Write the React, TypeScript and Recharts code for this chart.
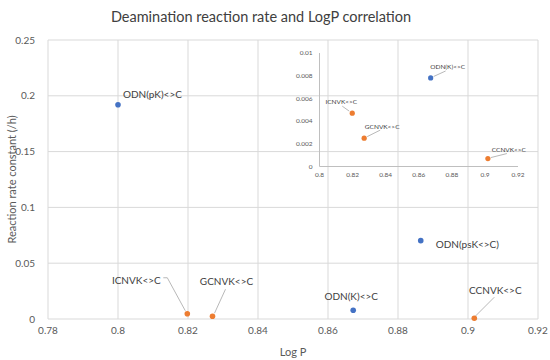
import { CartesianGrid, Scatter, ScatterChart, XAxis, YAxis } from 'recharts'

// blue series (ODN)
const odnNames = ['ODN(pK)<>C', 'ODN(psK<>C)', 'ODN(K)<>C']
const odnLogP = [0.8, 0.8865, 0.8672]
const odnRate = [0.192, 0.0702, 0.0078]

// orange series (CNVK)
const cnvkNames = ['ICNVK<>C', 'GCNVK<>C', 'CCNVK<>C']
const cnvkLogP = [0.8198, 0.827, 0.9018]
const cnvkRate = [0.0047, 0.0025, 0.0007]

const mainXTicks = [0.78, 0.8, 0.82, 0.84, 0.86, 0.88, 0.9, 0.92]
const mainYTicks = [0, 0.05, 0.1, 0.15, 0.2, 0.25]
const insetXTicks = [0.8, 0.82, 0.84, 0.86, 0.88, 0.9, 0.92]
const insetYTicks = [0, 0.002, 0.004, 0.006, 0.008, 0.01]

const BLUE = '#4472C4'
const ORANGE = '#ED7D31'
const GRID = '#d9d9d9'
const TEXT = '#595959'
const FONT = 'Lato, "Open Sans", sans-serif'

type Row = { name: string; logP: number; rate: number }
type Place = { dx: number; dy: number; anchor?: 'start' | 'middle' | 'end'; leader?: number[][] }

const toRows = (names: string[], xs: number[], ys: number[]): Row[] =>
  names.map((name, i) => ({ name, logP: xs[i], rate: ys[i] }))

const odnRows = toRows(odnNames, odnLogP, odnRate)
const cnvkRows = toRows(cnvkNames, cnvkLogP, cnvkRate)
const insetMax = 0.01

// label placement relative to the dot
const mainLabels: Record<string, Place> = {
  'ODN(pK)<>C': { dx: 5, dy: -11, anchor: 'start' },
  'ODN(psK<>C)': { dx: 15, dy: 3, anchor: 'start' },
  'ODN(K)<>C': { dx: -2, dy: -14 },
  'ICNVK<>C': { dx: -51, dy: -34, leader: [[-24, -36], [-20, -36], [-2, -3]] },
  'GCNVK<>C': { dx: 14, dy: -35, leader: [[13, -27], [2, -3]] },
  'CCNVK<>C': { dx: 21, dy: -28, leader: [[20, -21], [1, -2]] },
}

const insetLabels: Record<string, Place> = {
  'ODN(K)<>C': { dx: 17, dy: -11, leader: [[3, -1.5], [15, -7]] },
  'ICNVK<>C': { dx: -11, dy: -12, leader: [[-10, -7], [-3, -2]] },
  'GCNVK<>C': { dx: 18, dy: -12, leader: [[3, -1.5], [16, -8]] },
  'CCNVK<>C': { dx: 21, dy: -9, leader: [[3, -1], [19, -5]] },
}

function makeDot(color: string, places: Record<string, Place>, fontSize: number, r: number) {
  return (props: any) => {
    const { cx, cy, payload } = props
    const p = places[payload.name]
    return (
      <g>
        {p?.leader && (
          <polyline
            points={p.leader.map(([x, y]) => `${cx + x},${cy + y}`).join(' ')}
            fill="none"
            stroke="#a6a6a6"
            strokeWidth={0.8}
          />
        )}
        <circle cx={cx} cy={cy} r={r} fill={color} />
        {p && (
          <text
            x={cx + p.dx}
            y={cy + p.dy}
            textAnchor={p.anchor ?? 'middle'}
            dominantBaseline="central"
            fontSize={fontSize}
            fill="#404040"
            fontFamily={FONT}
          >
            {payload.name}
          </text>
        )}
      </g>
    )
  }
}

function MainChart() {
  return (
    <ScatterChart width={550} height={360} margin={{ top: 40, right: 12, bottom: 0, left: 8 }}>
      <CartesianGrid stroke={GRID} />
      <XAxis
        type="number"
        dataKey="logP"
        domain={[0.78, 0.92]}
        ticks={mainXTicks}
        height={41}
        axisLine={false}
        tickLine={false}
        tick={{ fontSize: 10, fill: TEXT, fontFamily: FONT }}
        label={{ value: 'Log P', position: 'insideBottom', offset: 4, fontSize: 11, fill: TEXT, fontFamily: FONT }}
      />
      <YAxis
        type="number"
        dataKey="rate"
        domain={[0, 0.25]}
        ticks={mainYTicks}
        width={40}
        axisLine={false}
        tickLine={false}
        tickMargin={7}
        tick={{ fontSize: 10, fill: TEXT, fontFamily: FONT }}
        label={{
          value: 'Reaction rate constant (/h)',
          angle: -90,
          position: 'insideLeft',
          offset: 4,
          fontSize: 11,
          fill: TEXT,
          fontFamily: FONT,
          style: { textAnchor: 'middle' },
        }}
      />
      <Scatter data={odnRows} isAnimationActive={false} shape={makeDot(BLUE, mainLabels, 10, 2.8)} />
      <Scatter data={cnvkRows} isAnimationActive={false} shape={makeDot(ORANGE, mainLabels, 10, 2.8)} />
    </ScatterChart>
  )
}

function InsetChart() {
  return (
    <ScatterChart width={240} height={145} margin={{ top: 13, right: 12, bottom: 0, left: 1.5 }}>
      <XAxis
        type="number"
        dataKey="logP"
        domain={[0.8, 0.92]}
        ticks={insetXTicks}
        height={18.5}
        axisLine={{ stroke: '#bfbfbf' }}
        tickLine={false}
        tickSize={4}
        tick={{ fontSize: 6.5, fill: TEXT, fontFamily: FONT }}
      />
      <YAxis
        type="number"
        dataKey="rate"
        domain={[0, insetMax]}
        ticks={insetYTicks}
        width={28}
        axisLine={{ stroke: '#bfbfbf' }}
        tickLine={false}
        tickSize={4}
        tickMargin={3}
        tick={{ fontSize: 6.5, fill: TEXT, fontFamily: FONT }}
      />
      <Scatter
        data={odnRows.filter((d) => d.rate <= insetMax)}
        isAnimationActive={false}
        shape={makeDot(BLUE, insetLabels, 6.5, 2.6)}
      />
      <Scatter
        data={cnvkRows.filter((d) => d.rate <= insetMax)}
        isAnimationActive={false}
        shape={makeDot(ORANGE, insetLabels, 6.5, 2.6)}
      />
    </ScatterChart>
  )
}

export default function App() {
  return (
    <div style={{ position: 'absolute', left: 0, top: 0, width: 550, height: 360, background: '#fff', fontFamily: FONT }}>
      <div
        style={{
          position: 'absolute',
          top: 7,
          left: 0,
          width: 522,
          textAlign: 'center',
          fontSize: 14.5,
          color: '#404040',
          lineHeight: '20px',
        }}
      >
        Deamination reaction rate and LogP correlation
      </div>
      <MainChart />
      <div style={{ position: 'absolute', left: 290, top: 40 }}>
        <InsetChart />
      </div>
    </div>
  )
}
